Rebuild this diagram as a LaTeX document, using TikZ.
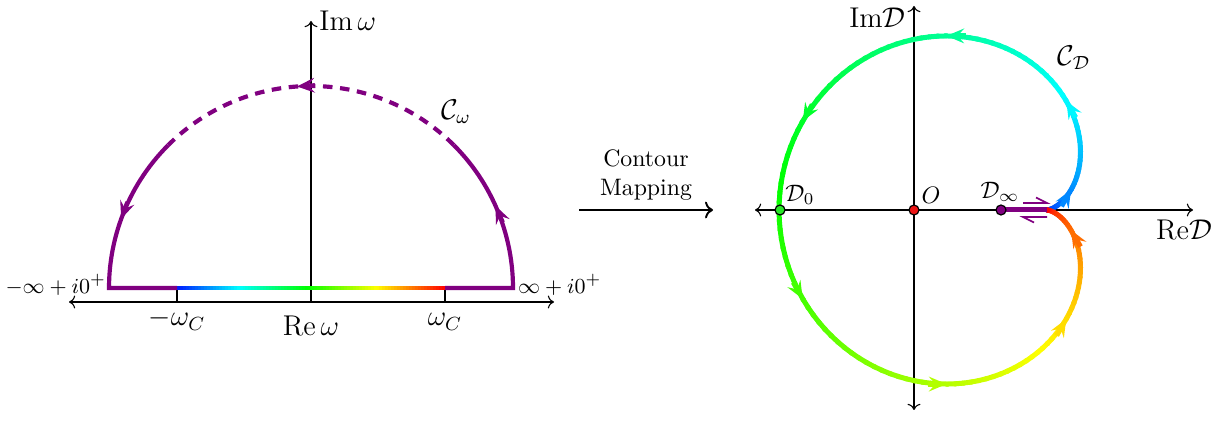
\documentclass[tikz,border=0pt]{standalone}
\usepackage{amsmath}
\usetikzlibrary{arrows.meta}
\definecolor{cpurple}{RGB}{128,0,128}
\definecolor{dotgreen}{RGB}{40,230,40}
\definecolor{dotred}{RGB}{235,20,20}
\begin{document}
\begin{tikzpicture}[x=0.42pt,y=-0.42pt,
  axis/.style={line width=0.45pt},
  contour/.style={cpurple,line width=1.75pt},
  tipC/.style={-{Stealth[length=7.4pt,width=6.2pt,inset=2.8pt]}},
  dot/.style={circle,draw=black,line width=0.5pt,inner sep=0pt,minimum size=4.2pt},
  inflbl/.style={font=\fontsize{9.5}{11}\selectfont},
]
\useasboundingbox (0,0) rectangle (1228,424);

% ---------------- left: omega plane ----------------
\coordinate (LxL) at (69,302);
\coordinate (LxR) at (554,302);
\coordinate (Lo) at (311,302);
\coordinate (LyT) at (311,21);
\draw[axis,<->] (LxL) -- (LxR);
\draw[axis,->] (Lo) -- (LyT);
\node[right] (Imw) at (LyT) {\large$\mathrm{Im}\,\omega$};

\coordinate (wm) at (177,288);
\coordinate (wmA) at (177,302);
\coordinate (wp) at (445,288);
\coordinate (wpA) at (445,302);
\draw[axis] (wm) -- (wmA);
\draw[axis] (wp) -- (wpA);
\node[anchor=base] (lwm) at (177,326) {\large$-\omega_C$};
\node[anchor=base] (lwp) at (445,326) {\large$\omega_C$};
\node[anchor=base] (lRe) at (311,336) {\large$\mathrm{Re}\,\omega$};

% rainbow part of the real axis
\foreach \i in {0,...,89}{
  \pgfmathsetmacro\xa{177+\i*(268/90)}
  \pgfmathsetmacro\xb{\xa+268/90+0.6}
  \pgfmathsetmacro\hh{(234-(\i+0.5)/90*234)/360}
  \definecolor{cseg}{hsb}{\hh,1,1}
  \draw[cseg,line width=1.75pt] (\xa,288) -- (\xb,288);
}

% purple contour
\coordinate (Bl) at (109,288);
\coordinate (Br) at (513,288);
\draw[contour] (wp) -- (Br) -- plot[domain=0:45,samples=30] ({311+202*cos(\x)},{288-202*sin(\x)});
\draw[contour] plot[domain=135:180,samples=30] ({311+202*cos(\x)},{288-202*sin(\x)}) -- (wm);
\draw[contour,dash pattern=on 4pt off 3.2pt] plot[domain=45:135,samples=80] ({311+202*cos(\x)},{288-202*sin(\x)});
\foreach \t in {24,94,160}{
  \pgfmathsetmacro\xa{311+202*cos(\t)}
  \pgfmathsetmacro\ya{288-202*sin(\t)}
  \pgfmathsetmacro\xs{\xa+18*sin(\t)}
  \pgfmathsetmacro\ys{\ya+18*cos(\t)}
  \draw[contour,tipC] (\xs,\ys) -- (\xa,\ya);
}
\node[left,inflbl,inner sep=1.5pt] (lminf) at (110,285) {$-\infty+i0^+$};
\node[right,inflbl,inner sep=2pt] (lpinf) at (513,285) {$\infty+i0^+$};
\node (Cw) at (456,112) {\large$\mathcal{C}_\omega$};

% ---------------- middle ----------------
\node[align=center] (cm) at (646,175) {Contour\\Mapping};
\coordinate (cmA) at (579,210);
\coordinate (cmB) at (713,210);
\draw[line width=0.8pt,->] (cmA) -- (cmB);

% ---------------- right: D plane ----------------
\coordinate (RxL) at (755,210);
\coordinate (RxR) at (1193,210);
\coordinate (RyB) at (914,410);
\coordinate (RyT) at (914,6);
\draw[axis,<->] (RxL) -- (RxR);
\draw[axis,<->] (RyB) -- (RyT);
\node[anchor=east,inner sep=0pt] (ImD) at (906,18) {\large$\mathrm{Im}\mathcal{D}$};
\node (ReD) at (1184,230) {\large$\mathrm{Re}\mathcal{D}$};

% cardioid-like image contour
\foreach \t in {0,2,...,358}{
  \pgfmathsetmacro\tb{\t+2.4}
  \pgfmathsetmacro\xa{1047+134*(1-cos(\t))*cos(\t)}
  \pgfmathsetmacro\ya{210-134*(1-cos(\t))*sin(\t)}
  \pgfmathsetmacro\xb{1047+134*(1-cos(\tb))*cos(\tb)}
  \pgfmathsetmacro\yb{210-134*(1-cos(\tb))*sin(\tb)}
  \pgfmathsetmacro\hh{(234-(\t+1)/360*234)/360}
  \definecolor{cseg}{hsb}{\hh,1,1}
  \draw[cseg,line width=2.1pt,line cap=round] (\xa,\ya) -- (\xb,\yb);
}
\foreach \t in {40,80,...,320}{
  \pgfmathsetmacro\xa{1047+134*(1-cos(\t))*cos(\t)}
  \pgfmathsetmacro\ya{210-134*(1-cos(\t))*sin(\t)}
  \pgfmathsetmacro\tx{sin(\t)*(2*cos(\t)-1)}
  \pgfmathsetmacro\ty{cos(\t)-cos(2*\t)}
  \pgfmathsetmacro\nn{sqrt(\tx*\tx+\ty*\ty)}
  \pgfmathsetmacro\xs{\xa-19*\tx/\nn}
  \pgfmathsetmacro\ys{\ya+19*\ty/\nn}
  \pgfmathsetmacro\hh{(234-\t/360*234)/360}
  \definecolor{cseg}{hsb}{\hh,1,1}
  \draw[cseg,line width=2.1pt,tipC] (\xs,\ys) -- (\xa,\ya);
}

% purple segment at D_infinity and harpoons
\coordinate (Dinfc) at (1001,210);
\coordinate (S) at (1047,210);
\draw[cpurple,line width=2.1pt] (Dinfc) -- (S);
\coordinate (h1a) at (1023,203);
\coordinate (h1b) at (1047,203);
\coordinate (h1c) at (1036,197.5);
\draw[cpurple,line width=0.7pt] (h1a) -- (h1b) -- (h1c);
\coordinate (h2a) at (1047,217);
\coordinate (h2b) at (1023,217);
\coordinate (h2c) at (1034,222.5);
\draw[cpurple,line width=0.7pt] (h2a) -- (h2b) -- (h2c);

% points
\node[dot,fill=cpurple] (Dinf) at (Dinfc) {};
\node[dot,fill=dotgreen] (D0) at (780,210) {};
\node[dot,fill=dotred] (O) at (914,210) {};
\node (lD0) at (800,195) {$\mathcal{D}_0$};
\node (lO) at (931,195) {$O$};
\node (lDinf) at (1000,192) {$\mathcal{D}_\infty$};
\node (CD) at (1074,58) {\large$\mathcal{C}_{\mathcal{D}}$};
\end{tikzpicture}
\end{document}
